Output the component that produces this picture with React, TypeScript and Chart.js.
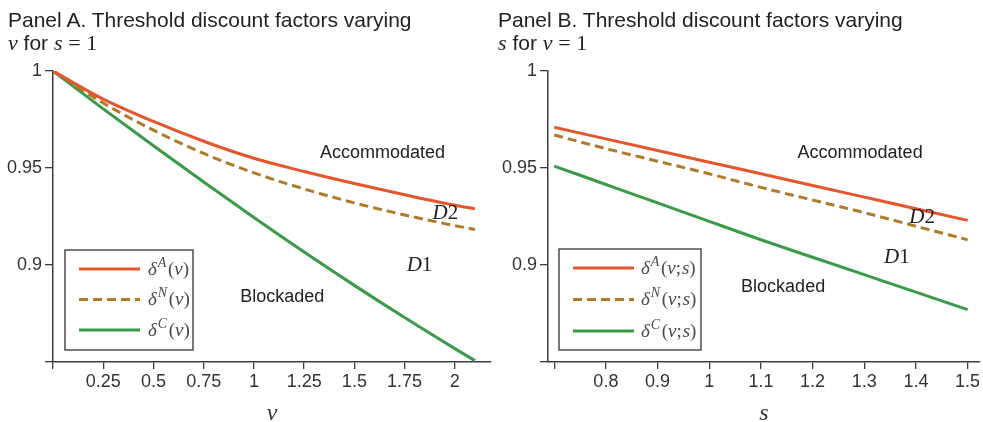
import React, { useEffect, useRef } from 'react';
import { Chart, registerables } from 'chart.js';
Chart.register(...registerables);

// ---------- data ----------
const vValues = [0, 0.25, 0.5, 0.75, 1, 1.25, 1.5, 1.75, 2, 2.1];
const deltaA_v = [1, 0.9855, 0.974, 0.9638, 0.955, 0.9482, 0.942, 0.9362, 0.9308, 0.929];
const deltaN_v = [1, 0.9835, 0.9695, 0.9575, 0.9475, 0.9392, 0.932, 0.9258, 0.9203, 0.9183];
const deltaC_v = [1, 0.9805, 0.9615, 0.9428, 0.9245, 0.9067, 0.8895, 0.8729, 0.8569, 0.8507];

const sValues = [0.7, 0.8, 0.9, 1, 1.1, 1.2, 1.3, 1.4, 1.5];
const deltaA_s = [0.971, 0.965, 0.959, 0.953, 0.947, 0.941, 0.935, 0.929, 0.923];
const deltaN_s = [0.967, 0.96, 0.9535, 0.947, 0.94, 0.9335, 0.927, 0.92, 0.913];
const deltaC_s = [0.951, 0.9415, 0.932, 0.9225, 0.913, 0.904, 0.895, 0.886, 0.877];

const yTickValues = [0.85, 0.9, 0.95, 1];
const yTickLabels = ['', '0.9', '0.95', '1'];
const vTickValues = [0, 0.25, 0.5, 0.75, 1, 1.25, 1.5, 1.75, 2];
const vTickLabels = ['', '0.25', '0.5', '0.75', '1', '1.25', '1.5', '1.75', '2'];
const sTickValues = [0.7, 0.8, 0.9, 1, 1.1, 1.2, 1.3, 1.4, 1.5];
const sTickLabels = ['', '0.8', '0.9', '1', '1.1', '1.2', '1.3', '1.4', '1.5'];

const seriesSup = ['A', 'N', 'C'];
const regionNames = ['Accommodated', 'D2', 'D1', 'Blockaded'];
const regionPosA = [[1.64, 0.9577], [1.953, 0.9268], [1.824, 0.9], [1.141, 0.8835]];
const regionPosB = [[1.292, 0.9577], [1.412, 0.9247], [1.363, 0.904], [1.143, 0.8887]];

// ---------- styles ----------
const COLORS = ['#E4562C', '#B07A2A', '#3A9A47'];
const DASHES = [[], [9, 5], []];
const SANS = '"Liberation Sans", Arial, sans-serif';
const SERIF = '"Liberation Serif", "Times New Roman", serif';
const AXIS = '#3c3c3c';
const TEXT = '#222';

function drawRegionLabels(chart: any, positions: number[][]) {
  const { ctx, scales } = chart;
  ctx.save();
  ctx.fillStyle = TEXT;
  ctx.textBaseline = 'middle';
  regionNames.forEach((name, i) => {
    const x = scales.x.getPixelForValue(positions[i][0]);
    const y = scales.y.getPixelForValue(positions[i][1]);
    if (name[0] === 'D') {
      ctx.font = `italic 21px ${SERIF}`;
      const w1 = ctx.measureText(name[0]).width;
      ctx.font = `21px ${SERIF}`;
      const w2 = ctx.measureText(name.slice(1)).width;
      const x0 = x - (w1 + w2) / 2;
      ctx.textAlign = 'left';
      ctx.font = `italic 21px ${SERIF}`;
      ctx.fillText(name[0], x0, y);
      ctx.font = `21px ${SERIF}`;
      ctx.fillText(name.slice(1), x0 + w1, y);
    } else {
      ctx.textAlign = 'center';
      ctx.font = `18px ${SANS}`;
      ctx.fillText(name, x, y);
    }
  });
  ctx.restore();
}

function drawLegend(chart: any, lg: any) {
  const { ctx, chartArea } = chart;
  const left = chartArea.left + lg.offsetLeft;
  const bottom = chartArea.bottom - lg.offsetBottom;
  const top = bottom - lg.height;
  ctx.save();
  ctx.strokeStyle = '#333';
  ctx.lineWidth = 1.3;
  ctx.strokeRect(left, top, lg.width, lg.height);
  chart.data.datasets.forEach((ds: any, i: number) => {
    const y = top + lg.rowTop + i * lg.rowGap;
    ctx.beginPath();
    ctx.setLineDash(ds.borderDash || []);
    ctx.strokeStyle = ds.borderColor;
    ctx.lineWidth = 3;
    ctx.moveTo(left + lg.lineStart, y);
    ctx.lineTo(left + lg.lineEnd, y);
    ctx.stroke();
    ctx.setLineDash([]);
    let x = left + lg.textStart;
    const base = y + 5.5;
    ctx.fillStyle = '#4a4a4a';
    ctx.textAlign = 'left';
    ctx.textBaseline = 'alphabetic';
    ctx.font = `italic 19px ${SERIF}`;
    ctx.fillText('δ', x, base);
    x += ctx.measureText('δ').width + 1;
    ctx.font = `italic 14px ${SERIF}`;
    ctx.fillText(seriesSup[i], x, base - 8);
    x += ctx.measureText(seriesSup[i]).width + 1.5;
    const arg = '(' + lg.arg + ')';
    for (const ch of arg) {
      ctx.font = /[a-z]/.test(ch) ? `italic 19px ${SERIF}` : `19px ${SERIF}`;
      ctx.fillText(ch, x, base);
      x += ctx.measureText(ch).width + (ch === ';' ? 1 : 0);
    }
  });
  ctx.restore();
}

function makeConfig(p: any) {
  return {
    type: 'line',
    data: {
      labels: p.xs,
      datasets: p.series.map((ys: number[], i: number) => ({
        label: 'δ' + seriesSup[i] + '(' + p.arg + ')',
        data: p.xs.map((x: number, j: number) => ({ x, y: ys[j] })),
        borderColor: COLORS[i],
        borderDash: DASHES[i],
        borderWidth: 3,
        pointRadius: 0,
        fill: false,
        cubicInterpolationMode: 'monotone',
      })),
    },
    options: {
      responsive: false,
      animation: false,
      events: [],
      layout: { padding: { top: 71, right: p.rightPad, left: 0, bottom: 0 } },
      plugins: { legend: { display: false }, tooltip: { enabled: false }, title: { display: false } },
      scales: {
        x: {
          type: 'linear',
          min: p.xMin,
          max: p.xMax,
          afterBuildTicks: (s: any) => { s.ticks = p.xTicks.map((v: number) => ({ value: v })); },
          afterFit: (s: any) => { s.height = 60; },
          ticks: {
            autoSkip: false,
            maxRotation: 0,
            padding: 2,
            color: '#333',
            font: { family: SANS, size: 18 },
            callback: (_v: any, idx: number) => p.xLabels[idx],
          },
          grid: { drawOnChartArea: false, drawTicks: true, tickLength: 7, color: AXIS, lineWidth: 1.3 },
          border: { display: true, color: AXIS, width: 1.5 },
          title: {
            display: true,
            text: p.xTitle,
            color: '#333',
            font: { family: SERIF, style: 'italic', size: 24, lineHeight: 0.67 },
            padding: { top: 0, bottom: 0 },
          },
        },
        y: {
          type: 'linear',
          min: 0.85,
          max: 1,
          afterBuildTicks: (s: any) => { s.ticks = yTickValues.map((v) => ({ value: v })); },
          afterFit: (s: any) => { s.width = 53; },
          ticks: {
            autoSkip: false,
            padding: 3,
            color: '#333',
            font: { family: SANS, size: 18 },
            callback: (_v: any, idx: number) => yTickLabels[idx],
          },
          grid: { drawOnChartArea: false, drawTicks: true, tickLength: 8, color: AXIS, lineWidth: 1.3 },
          border: { display: true, color: AXIS, width: 1.5 },
        },
      },
    },
    plugins: [
      {
        id: 'extras',
        afterDraw: (chart: any) => {
          drawRegionLabels(chart, p.regionPos);
          drawLegend(chart, p.legend);
        },
      },
    ],
  };
}

function Panel(props: { p: any; left: number; width: number }) {
  const ref = useRef<HTMLCanvasElement>(null);
  useEffect(() => {
    const chart = new Chart(ref.current as HTMLCanvasElement, makeConfig(props.p) as any);
    return () => chart.destroy();
  }, []);
  return (
    <canvas
      ref={ref}
      width={props.width}
      height={422}
      style={{ position: 'absolute', left: props.left, top: 0, width: props.width, height: 422 }}
    />
  );
}

const panelA = {
  xs: vValues,
  series: [deltaA_v, deltaN_v, deltaC_v],
  arg: 'v',
  xMin: 0,
  xMax: 2.18,
  xTicks: vTickValues,
  xLabels: vTickLabels,
  xTitle: 'v',
  rightPad: 4,
  regionPos: regionPosA,
  legend: { offsetLeft: 12, offsetBottom: 12, width: 128, height: 100, rowTop: 19, rowGap: 30.5, lineStart: 14, lineEnd: 75, textStart: 83, arg: 'v' },
};

const panelB = {
  xs: sValues,
  series: [deltaA_s, deltaN_s, deltaC_s],
  arg: 'v;s',
  xMin: 0.688,
  xMax: 1.524,
  xTicks: sTickValues,
  xLabels: sTickLabels,
  xTitle: 's',
  rightPad: 3,
  regionPos: regionPosB,
  legend: { offsetLeft: 11, offsetBottom: 12, width: 142, height: 101, rowTop: 19, rowGap: 31.5, lineStart: 14, lineEnd: 75, textStart: 82, arg: 'v;s' },
};

const titleLine: React.CSSProperties = {
  position: 'absolute',
  whiteSpace: 'nowrap',
  fontFamily: SANS,
  fontSize: 21,
  lineHeight: '23px',
  color: TEXT,
};
const mathI: React.CSSProperties = { fontFamily: SERIF, fontStyle: 'italic', fontSize: 22 };
const mathR: React.CSSProperties = { fontFamily: SERIF, fontSize: 22 };

function Title(props: { left: number; panel: string; a: string; b: string }) {
  return (
    <>
      <div style={{ ...titleLine, left: props.left, top: 8 }}>
        {`Panel ${props.panel}. Threshold discount factors varying`}
      </div>
      <div style={{ ...titleLine, left: props.left, top: 31 }}>
        <span style={mathI}>{props.a}</span> for <span style={mathI}>{props.b}</span>{' '}
        <span style={mathR}>= 1</span>
      </div>
    </>
  );
}

export default function App() {
  return (
    <div style={{ position: 'absolute', left: 0, top: 0, width: 983, height: 422, background: '#fff' }}>
      <Panel p={panelA} left={0} width={495} />
      <Panel p={panelB} left={495} width={488} />
      <Title left={8} panel="A" a="v" b="s" />
      <Title left={498} panel="B" a="s" b="v" />
    </div>
  );
}
